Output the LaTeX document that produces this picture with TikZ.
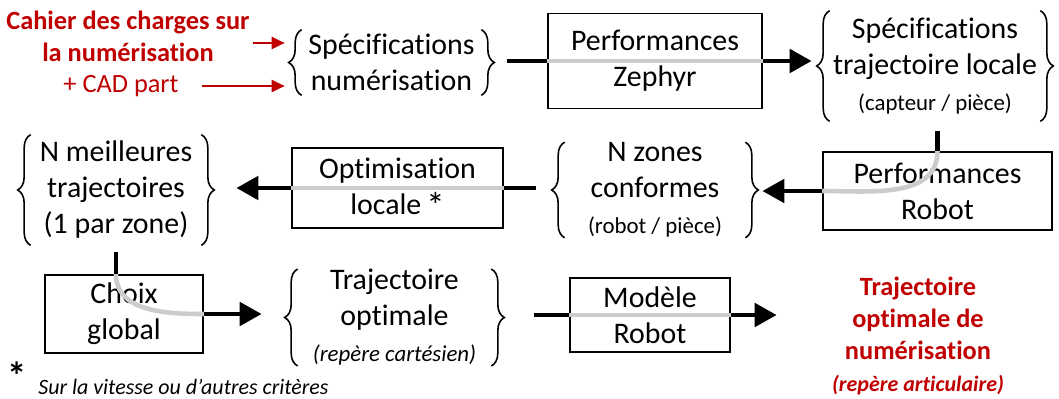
\documentclass[tikz,border=0pt]{standalone}
\usepackage{fontspec}
\setmainfont{Carlito}[Ligatures=CommonOff]
\usetikzlibrary{arrows.meta,decorations.pathreplacing}
\definecolor{darkred}{RGB}{192,0,0}
\newcommand{\fbig}{\fontsize{17}{20.5}\selectfont}
\newcommand{\fmid}{\fontsize{15}{18.3}\selectfont}
\newcommand{\fsml}{\fontsize{13}{15}\selectfont}

\tikzset{
  box/.style={draw, line width=1pt, align=center, font=\fbig, inner sep=0pt},
  grp/.style={align=center, font=\fbig, inner sep=0pt},
  flow/.style={line width=2.8pt},
  arr/.style={flow, -{Triangle[length=0.44cm,width=0.46cm]}},
  thru/.style={line width=2.6pt, draw=black!20},
  brc/.style={decorate, decoration={brace, amplitude=0.26cm}, line width=0.9pt},
  redarr/.style={draw=darkred, line width=1.3pt, -{Triangle[length=0.26cm,width=0.24cm]}},
}

\begin{document}
\begin{tikzpicture}[x=0.02cm,y=-0.02cm]
\useasboundingbox (0,0) rectangle (1059,399);

% inputs
\node[align=center, font=\fmid\bfseries, text=darkred, inner sep=0pt] (cahier) at (128,36) {Cahier des charges sur\\la numérisation};
\node[font=\fmid, text=darkred, inner sep=0pt] (cad) at (121,86) {+ CAD part};

% first row
\node[grp, minimum width=3.58cm, minimum height=1.3cm] (specnum) at (391.5,62.5) {Spécifications\\numérisation};
\node[box, minimum width=4.28cm, minimum height=1.9cm] (zephyr) at (655,61) {Performances\\Zephyr};
\node[grp, minimum width=4.2cm, minimum height=2.2cm] (specloc) at (935,66) {Spécifications\\trajectoire locale\\{\fsml (capteur / pièce)}};

% second row
\node[box, minimum width=4.58cm, minimum height=1.56cm] (perfrob) at (937.5,191) {Performances\\Robot};
\node[grp, minimum width=3.6cm, minimum height=1.8cm] (zones) at (655,190) {N zones\\conformes\\{\fsml (robot / pièce)}};
\node[box, minimum width=4.22cm, minimum height=1.6cm] (optim) at (397.5,188) {Optimisation\\locale\,\raisebox{-0.09cm}{\fontsize{21}{20}\selectfont *}};
\node[grp, minimum width=3.4cm, minimum height=2.2cm] (best) at (116,190) {N meilleures\\trajectoires\\(1 par zone)};

% third row
\node[box, minimum width=3.16cm, minimum height=1.56cm] (choix) at (124,314) {Choix\\global};
\node[grp, minimum width=3.86cm, minimum height=1.9cm] (trajopt) at (394.5,317.5) {Trajectoire\\optimale\\{\fsml\itshape (repère cartésien)}};
\node[box, minimum width=3.2cm, minimum height=1.48cm] (modele) at (650,315) {Modèle\\Robot};
\node[align=center, font=\fmid\bfseries, text=darkred, inner sep=0pt] (out) at (918,336) {Trajectoire\\optimale de\\numérisation\\{\fontsize{12.5}{15}\selectfont\bfseries\itshape (repère articulaire)}};

% footnote
\node[font=\fontsize{22}{22}\selectfont\bfseries, inner sep=0pt] (star) at (17,376) {*};
\node[anchor=west, font=\fontsize{12.5}{15}\selectfont\itshape, inner sep=0pt] (note) at (38,387) {Sur la vitesse ou d’autres critères};

% braces
\foreach \n in {specnum,specloc,zones,best,trajopt} {
  \draw[brc] (\n.south west) -- (\n.north west);
  \draw[brc] (\n.north east) -- (\n.south east);
}

% red inputs
\draw[redarr, shorten <=0.06cm, shorten >=0.34cm] ([yshift=-0.14cm]cahier.east) -- ([yshift=-0.14cm]cahier.east -| specnum.west);
\draw[redarr, shorten <=0.46cm, shorten >=0.34cm] (cad.east) -- (cad.east -| specnum.west);

% flow
\draw[flow, shorten <=0.52cm] (specnum.east |- zephyr.west) -- (zephyr.west);
\draw[thru] (zephyr.west) -- (zephyr.east);
\draw[arr, shorten >=0.36cm] (zephyr.east) -- (specloc.west |- zephyr.east);

\draw[flow, shorten <=0.2cm] (specloc.south -| perfrob.north) -- (perfrob.north);
\draw[thru] (perfrob.north) to[out=-90,in=0] (perfrob.west);
\draw[arr, shorten >=0.34cm] (perfrob.west) -- (zones.east |- perfrob.west);

\draw[flow, shorten <=0.58cm] (zones.west |- optim.east) -- (optim.east);
\draw[thru] (optim.east) -- (optim.west);
\draw[arr, shorten >=0.7cm] (optim.west) -- (best.east |- optim.west);

\draw[flow, shorten <=0.14cm] (best.south) -- (best.south |- choix.north);
\draw[thru] (best.south |- choix.north) to[out=-90,in=180] (choix.east);
\draw[arr, shorten >=0.72cm] (choix.east) -- (trajopt.west |- choix.east);

\draw[flow, shorten <=0.86cm] (trajopt.east |- modele.west) -- (modele.west);
\draw[thru] (modele.west) -- (modele.east);
\draw[arr, shorten >=1.1cm] (modele.east) -- (out.west |- modele.east);

\end{tikzpicture}
\end{document}
